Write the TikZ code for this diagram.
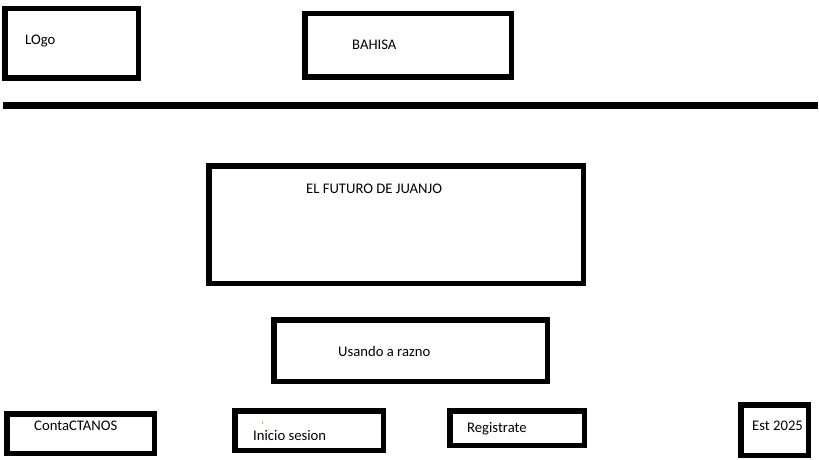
\documentclass[tikz,border=0pt]{standalone}
\usepackage{fontspec}
\setmainfont{Carlito}
\begin{document}
\begin{tikzpicture}[x=1pt,y=-1pt,
  box/.style={draw=black, line width=5.5pt, fill=none, inner sep=0pt, rectangle},
  lbl/.style={anchor=base west, inner sep=0pt, font=\fontsize{14.67}{17}\selectfont, text=black}]
\useasboundingbox[fill=white] (0,0) rectangle (819,460);
% boxes
\node[box, minimum width=133.5pt, minimum height=69.5pt] (logo) at (71.5,43.5) {};
\node[box, minimum width=206.5pt, minimum height=63.5pt] (bahisa) at (408,45.5) {};
\coordinate (lineL) at (3,105);
\coordinate (lineR) at (818,105);
\draw[line width=7pt] (lineL) -- (lineR);
\node[box, minimum width=374.5pt, minimum height=117.5pt] (futuro) at (396,224.5) {};
\node[box, minimum width=273.5pt, minimum height=61.5pt] (usando) at (410.5,350.5) {};
\node[box, minimum width=147.5pt, minimum height=39.5pt] (conta) at (80.5,433.5) {};
\node[box, minimum width=148.5pt, minimum height=39.5pt] (inicio) at (309,430.5) {};
\node[box, minimum width=134.5pt, minimum height=34.5pt] (regis) at (517,428) {};
\node[box, minimum width=67.5pt, minimum height=50.5pt] (est) at (774.5,430) {};
% labels
\node[lbl] (tlogo) at (25,44.3) {LOgo};
\node[lbl] (tbahisa) at (352,49.3) {BAHISA};
\node[lbl] (tfuturo) at (306,193.3) {EL FUTURO DE JUANJO};
\node[lbl] (tusando) at (338,356) {Usando a razno};
\node[lbl] (tconta) at (34,430) {ContaCTANOS};
\node[lbl] (tinicio) at (253,440) {Inicio sesion};
\node[lbl] (tregis) at (467,432.3) {Registrate};
\node[lbl] (test) at (752,430.7) {Est 2025};
% stray mark
\coordinate (m1) at (262,420.5);
\coordinate (m2) at (262,423.5);
\draw[color={rgb,255:red,240;green,170;blue,60}, line width=0.8pt] (m1) -- (m2);
\end{tikzpicture}
\end{document}
